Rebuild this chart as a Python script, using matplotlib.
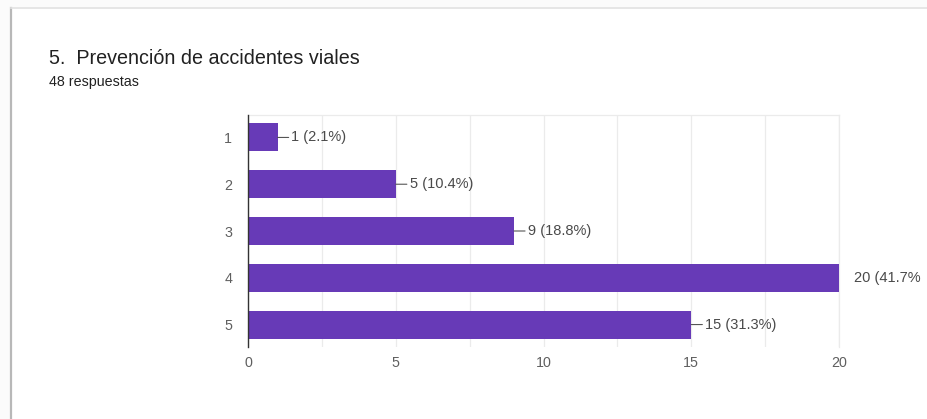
import matplotlib
matplotlib.use("Agg")
import matplotlib.pyplot as plt
from matplotlib.patches import Rectangle
from matplotlib.lines import Line2D

categories = ["1", "2", "3", "4", "5"]
counts = [1, 5, 9, 20, 15]
labels = ["1 (2.1%)", "5 (10.4%)", "9 (18.8%)", "20 (41.7%", "15 (31.3%)"]
x_ticks = [0, 5, 10, 15, 20]
title = "5.  Prevención de accidentes viales"
subtitle = "48 respuestas"

plt.rcParams['font.family'] = ['Liberation Sans', 'DejaVu Sans']

W, H = 928, 419
fig = plt.figure(figsize=(W / 100, H / 100), dpi=100)
fig.patch.set_facecolor("#fbfbfb")

# card
fig.patches.append(Rectangle((11 / W, 0), 1, 1 - 8 / H, transform=fig.transFigure,
                             facecolor="white", edgecolor="none", zorder=-5))
fig.lines.append(Line2D([11 / W, 11 / W], [0, 1 - 8 / H], transform=fig.transFigure,
                        color="#b8b8b8", lw=1.6, zorder=-4))
fig.lines.append(Line2D([11 / W, 1], [1 - 8 / H, 1 - 8 / H], transform=fig.transFigure,
                        color="#e2e2e2", lw=1.2, zorder=-4))

fig.text(49 / W, 1 - 58 / H, title, fontsize=14.2, color="#212121", va="center", ha="left")
fig.text(49 / W, 1 - 82 / H, subtitle, fontsize=10.3, color="#212121", va="center", ha="left")

left, right, top, bottom = 248, 839, 115, 347
ax = fig.add_axes([left / W, 1 - bottom / H, (right - left) / W, (bottom - top) / H])
ax.set_zorder(5)
ax.set_facecolor("white")

ypos = list(range(len(categories)))
ax.barh(ypos, counts, height=0.6, color="#673ab7", zorder=3)
ax.set_xlim(0, 20)
ax.set_ylim(len(categories) - 1 + 0.48, -0.48)

ax.set_yticks(ypos)
ax.set_yticklabels(categories)
ax.set_xticks(x_ticks)
ax.set_xticks([2.5, 7.5, 12.5, 17.5], minor=True)
ax.tick_params(axis="both", which="both", length=0, labelsize=10.3, labelcolor="#5f5f5f")
ax.tick_params(axis="y", pad=11.5)
ax.tick_params(axis="x", pad=6.5)
ax.grid(True, axis="x", which="both", color="#ebebeb", lw=0.9, zorder=0)

for s in ["top", "right", "bottom"]:
    ax.spines[s].set_color("#ebebeb")
    ax.spines[s].set_linewidth(0.9)
ax.spines["bottom"].set_visible(False)
ax.spines["left"].set_color("#333333")
ax.spines["left"].set_linewidth(1.0)
ax.spines["left"].set_zorder(4)

for y, v, lab in zip(ypos, counts, labels):
    if v >= 20:
        ax.annotate(lab, xy=(v, y), xytext=(10.5, 0), textcoords="offset points",
                    va="center", ha="left", fontsize=10.5, color="#4a4a4a",
                    annotation_clip=False)
    else:
        ax.annotate(lab, xy=(v, y), xytext=(10, 0), textcoords="offset points",
                    va="center", ha="left", fontsize=10.5, color="#4a4a4a",
                    arrowprops=dict(arrowstyle="-", color="#555555", lw=0.8,
                                    shrinkA=0, shrinkB=0))

fig.savefig("out.png", dpi=100, facecolor=fig.get_facecolor())
